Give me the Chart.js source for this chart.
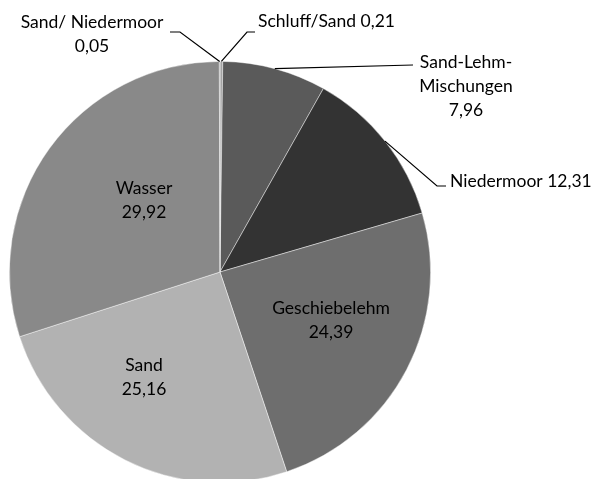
<!DOCTYPE html>
<html>
<head>
    <meta charset="utf-8">
    <title>Bodenarten</title>
    <script src="https://cdn.jsdelivr.net/npm/chart.js@4"></script>
    <style>
        html, body { margin: 0; padding: 0; background: #fff; overflow: hidden; }
        #wrap { position: relative; width: 598px; height: 486px; }
    </style>
</head>
<body>
    <div id="wrap"><canvas id="soil"></canvas></div>

    <script>
        // soil types, clockwise from 12 o'clock
        var categories = ['Schluff/Sand', 'Sand-Lehm-Mischungen', 'Niedermoor', 'Geschiebelehm', 'Sand', 'Wasser', 'Sand/ Niedermoor'];
        var shares = [0.21, 7.96, 12.31, 24.39, 25.16, 29.92, 0.05];
        var greys = ['#a3a3a3', '#5a5a5a', '#333333', '#6e6e6e', '#b2b2b2', '#898989', '#7f7f7f'];

        function fmt(v) { return v.toFixed(2).replace('.', ','); }

        // where each label goes; "lead" is the bend + end of the leader line
        var labelSpots = [
            { lines: function (n, v) { return [n + ' ' + v]; }, x: 258, y: 27, align: 'left', lead: [[247, 32], [255, 32]] },
            { lines: function (n, v) { return ['Sand-Lehm-', 'Mischungen', v]; }, x: 466, y: 68, align: 'center', lead: [[413, 65]] },
            { lines: function (n, v) { return [n + ' ' + v]; }, x: 450, y: 187, align: 'left', lead: [[437, 186], [446, 186]] },
            { lines: function (n, v) { return [n, v]; }, x: 331, y: 314, align: 'center' },
            { lines: function (n, v) { return [n, v]; }, x: 144, y: 371, align: 'center' },
            { lines: function (n, v) { return [n, v]; }, x: 144, y: 194, align: 'center' },
            { lines: function (n, v) { return [n, v]; }, x: 92, y: 28, align: 'center', lead: [[180, 32], [170, 32]] }
        ];

        var sliceLabels = {
            id: 'sliceLabels',
            afterDatasetsDraw: function (chart) {
                var ctx = chart.ctx;
                var arcs = chart.getDatasetMeta(0).data;
                ctx.save();
                arcs.forEach(function (arc, i) {
                    var spot = labelSpots[i];
                    if (spot.lead) {
                        var mid = (arc.startAngle + arc.endAngle) / 2;
                        ctx.beginPath();
                        ctx.moveTo(arc.x + Math.cos(mid) * arc.outerRadius, arc.y + Math.sin(mid) * arc.outerRadius);
                        spot.lead.forEach(function (p) { ctx.lineTo(p[0], p[1]); });
                        ctx.strokeStyle = '#000';
                        ctx.lineWidth = 1.2;
                        ctx.stroke();
                    }
                    ctx.fillStyle = '#000';
                    ctx.font = '17.5px Lato';
                    ctx.textAlign = spot.align;
                    ctx.textBaseline = 'alphabetic';
                    spot.lines(categories[i], fmt(shares[i])).forEach(function (t, k) {
                        ctx.fillText(t, spot.x, spot.y + k * 24);
                    });
                });
                ctx.restore();
            }
        };

        new Chart(document.getElementById('soil'), {
            type: 'pie',
            data: {
                labels: categories,
                datasets: [{
                    data: shares,
                    backgroundColor: greys,
                    borderColor: 'rgba(255,255,255,0.55)',
                    borderWidth: 0.8
                }]
            },
            options: {
                responsive: true,
                maintainAspectRatio: false,
                animation: false,
                layout: { padding: { left: 9, right: 167, top: 61, bottom: 3 } },
                plugins: {
                    legend: { display: false },
                    tooltip: { enabled: false }
                }
            },
            plugins: [sliceLabels]
        });
    </script>
</body>
</html>
